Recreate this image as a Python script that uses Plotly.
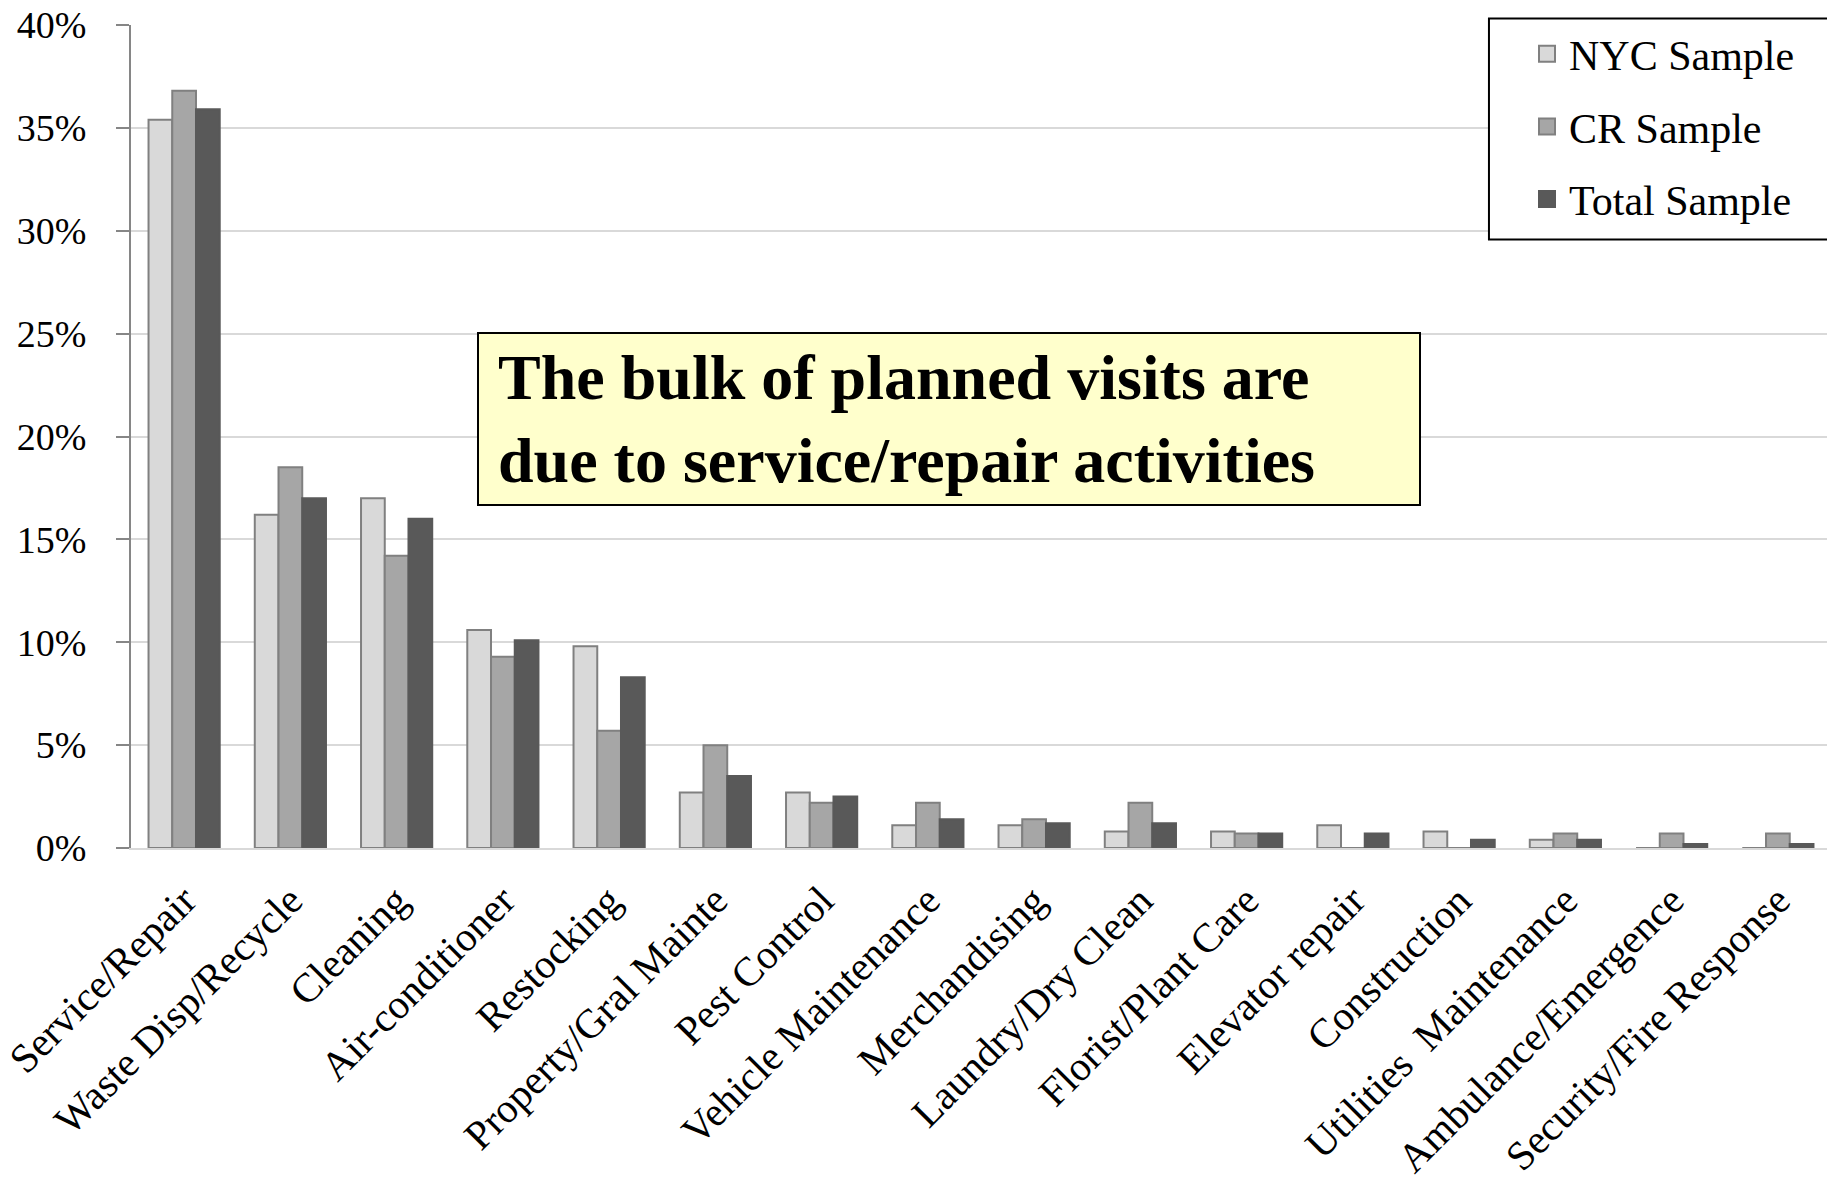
import plotly.graph_objects as go

categories = ["Service/Repair", "Waste Disp/Recycle", "Cleaning", "Air-conditioner",
              "Restocking", "Property/Gral Mainte", "Pest Control", "Vehicle Maintenance",
              "Merchandising", "Laundry/Dry Clean", "Florist/Plant Care", "Elevator repair",
              "Construction", "Utilities  Maintenance", "Ambulance/Emergence",
              "Security/Fire Response"]
nyc = [35.4, 16.2, 17.0, 10.6, 9.8, 2.7, 2.7, 1.1, 1.1, 0.8, 0.8, 1.1, 0.8, 0.4, 0.0, 0.0]
cr = [36.8, 18.5, 14.2, 9.3, 5.7, 5.0, 2.2, 2.2, 1.4, 2.2, 0.7, 0.0, 0.0, 0.7, 0.7, 0.7]
total = [35.9, 17.0, 16.0, 10.1, 8.3, 3.5, 2.5, 1.4, 1.2, 1.2, 0.7, 0.7, 0.4, 0.4, 0.2, 0.2]
series_names = ["NYC Sample", "CR Sample", "Total Sample"]
y_ticks = [0, 5, 10, 15, 20, 25, 30, 35, 40]
y_tick_labels = ["0%", "5%", "10%", "15%", "20%", "25%", "30%", "35%", "40%"]
note_text = "The bulk of planned visits are<br>due to service/repair activities"

FONT = "Liberation Serif"
fills = ["#d9d9d9", "#a6a6a6", "#595959"]
edges = ["#808080", "#808080", "#595959"]

fig = go.Figure()
for i, (name, vals) in enumerate(zip(series_names, [nyc, cr, total])):
    fig.add_trace(go.Bar(
        x=categories, y=vals, name=name, legendgroup=name, showlegend=False,
        marker=dict(color=fills[i], line=dict(color=edges[i], width=2)),
    ))
    # legend entry with a larger square swatch
    fig.add_trace(go.Scatter(
        x=[None], y=[None], mode="markers", name=name, legendgroup=name,
        marker=dict(symbol="square", size=20, color=fills[i],
                    line=dict(color=edges[i], width=2)),
    ))

fig.update_layout(
    width=1835, height=1184,
    margin=dict(l=123, r=12, t=15, b=344),
    paper_bgcolor="white", plot_bgcolor="white",
    font=dict(family=FONT, size=38, color="black"),
    barmode="group", bargap=0.33, bargroupgap=0.0,
    showlegend=True,
    legend=dict(
        x=0.820, y=1.006, xanchor="left", yanchor="top",
        bgcolor="rgba(255,255,255,0)", borderwidth=0,
        font=dict(family=FONT, size=42), tracegroupgap=15,
        itemwidth=34,
    ),
    xaxis=dict(
        tickangle=-45, showgrid=False, automargin=False,
        showline=True, linecolor="#d9d9d9", linewidth=2,
        ticks="", tickfont=dict(family=FONT, size=41),
        ticklabelstandoff=10,
    ),
    yaxis=dict(
        range=[0, 40], tickvals=y_ticks, ticktext=y_tick_labels, automargin=False,
        showgrid=True, gridcolor="#d9d9d9", gridwidth=2,
        showline=True, linecolor="#868686", linewidth=2,
        ticks="outside", ticklen=13, tickcolor="#868686", tickwidth=2,
        tickfont=dict(family=FONT, size=38), ticklabelstandoff=22,
        ticklabeloverflow="allow", zeroline=False,
    ),
)

# legend frame
fig.add_shape(
    type="rect", xref="paper", yref="paper",
    x0=0.7988, x1=1.0022, y0=0.7394, y1=1.008,
    line=dict(color="black", width=2), fillcolor="white", layer="above",
)

fig.add_annotation(
    text="<b>&nbsp;" + note_text.replace("<br>", "<br>&nbsp;") + "</b>",
    xref="paper", yref="y", x=0.2036, y=25.07, xanchor="left", yanchor="top",
    showarrow=False, align="left", valign="middle",
    width=934, height=164,
    font=dict(family=FONT, size=64, color="black"),
    bgcolor="#ffffcc", bordercolor="black", borderwidth=2, borderpad=3,
)

fig.write_html("out.html")
